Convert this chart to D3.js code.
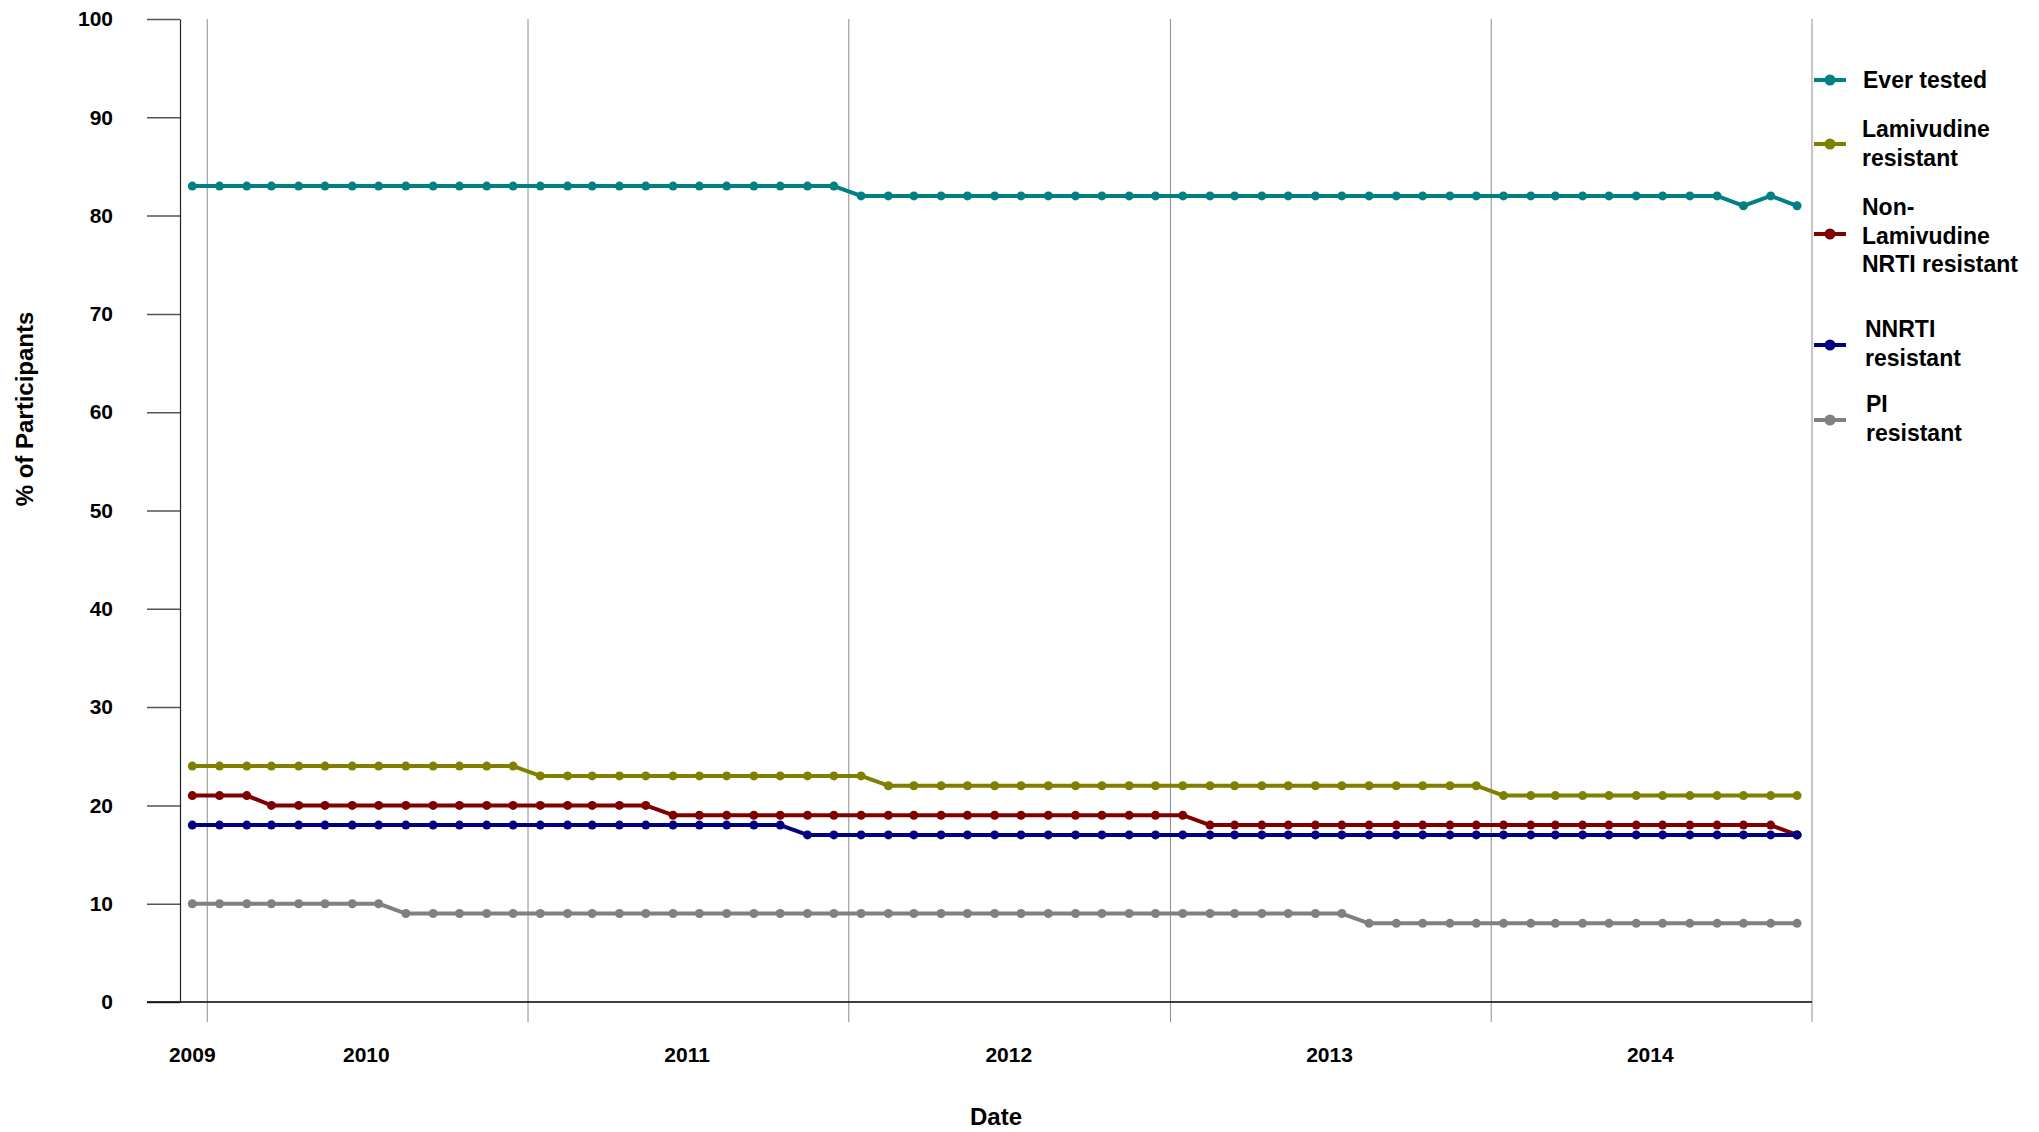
<!DOCTYPE html>
<html>
<head>
<meta charset="utf-8">
<script src="https://cdn.jsdelivr.net/npm/d3@7"></script>
<style>
  body { margin: 0; background: #fff; }
  text { font-family: "Liberation Sans", Arial, sans-serif; font-weight: bold; fill: #000; }
</style>
</head>
<body>
<script>
// monthly data, Dec 2009 - Dec 2014
var months = [
  "2009-12",
  "2010-01", "2010-02", "2010-03", "2010-04", "2010-05", "2010-06", "2010-07", "2010-08", "2010-09", "2010-10", "2010-11", "2010-12",
  "2011-01", "2011-02", "2011-03", "2011-04", "2011-05", "2011-06", "2011-07", "2011-08", "2011-09", "2011-10", "2011-11", "2011-12",
  "2012-01", "2012-02", "2012-03", "2012-04", "2012-05", "2012-06", "2012-07", "2012-08", "2012-09", "2012-10", "2012-11", "2012-12",
  "2013-01", "2013-02", "2013-03", "2013-04", "2013-05", "2013-06", "2013-07", "2013-08", "2013-09", "2013-10", "2013-11", "2013-12",
  "2014-01", "2014-02", "2014-03", "2014-04", "2014-05", "2014-06", "2014-07", "2014-08", "2014-09", "2014-10", "2014-11", "2014-12"
];

var everTested = [
  83,
  83, 83, 83, 83, 83, 83, 83, 83, 83, 83, 83, 83,
  83, 83, 83, 83, 83, 83, 83, 83, 83, 83, 83, 83,
  82, 82, 82, 82, 82, 82, 82, 82, 82, 82, 82, 82,
  82, 82, 82, 82, 82, 82, 82, 82, 82, 82, 82, 82,
  82, 82, 82, 82, 82, 82, 82, 82, 82, 81, 82, 81
];
var lamivudine = [
  24,
  24, 24, 24, 24, 24, 24, 24, 24, 24, 24, 24, 24,
  23, 23, 23, 23, 23, 23, 23, 23, 23, 23, 23, 23,
  23, 22, 22, 22, 22, 22, 22, 22, 22, 22, 22, 22,
  22, 22, 22, 22, 22, 22, 22, 22, 22, 22, 22, 22,
  21, 21, 21, 21, 21, 21, 21, 21, 21, 21, 21, 21
];
var nonLamNrti = [
  21,
  21, 21, 20, 20, 20, 20, 20, 20, 20, 20, 20, 20,
  20, 20, 20, 20, 20, 19, 19, 19, 19, 19, 19, 19,
  19, 19, 19, 19, 19, 19, 19, 19, 19, 19, 19, 19,
  19, 18, 18, 18, 18, 18, 18, 18, 18, 18, 18, 18,
  18, 18, 18, 18, 18, 18, 18, 18, 18, 18, 18, 17
];
var nnrti = [
  18,
  18, 18, 18, 18, 18, 18, 18, 18, 18, 18, 18, 18,
  18, 18, 18, 18, 18, 18, 18, 18, 18, 18, 17, 17,
  17, 17, 17, 17, 17, 17, 17, 17, 17, 17, 17, 17,
  17, 17, 17, 17, 17, 17, 17, 17, 17, 17, 17, 17,
  17, 17, 17, 17, 17, 17, 17, 17, 17, 17, 17, 17
];
var pi = [
  10,
  10, 10, 10, 10, 10, 10, 10, 9, 9, 9, 9, 9,
  9, 9, 9, 9, 9, 9, 9, 9, 9, 9, 9, 9,
  9, 9, 9, 9, 9, 9, 9, 9, 9, 9, 9, 9,
  9, 9, 9, 9, 9, 9, 9, 8, 8, 8, 8, 8,
  8, 8, 8, 8, 8, 8, 8, 8, 8, 8, 8, 8
];

var seriesNames = [
  ["Ever tested"],
  ["Lamivudine", "resistant"],
  ["Non-", "Lamivudine", "NRTI resistant"],
  ["NNRTI", "resistant"],
  ["PI", "resistant"]
];
var seriesValues = [everTested, lamivudine, nonLamNrti, nnrti, pi];
var seriesColors = ["#008080", "#808000", "#800000", "#000080", "#808080"];

var yTicks = [0, 10, 20, 30, 40, 50, 60, 70, 80, 90, 100];
var yearLabels = ["2009", "2010", "2011", "2012", "2013", "2014"];
var yearBreaks = ["2010", "2011", "2012", "2013", "2014", "2015"];

// dimensions (window.top is read-only, so no "top" here)
var width = 2039;
var height = 1132;
var plotLeft = 180, plotRight = 1812, plotTop = 19, plotBottom = 1002;

var parseMonth = d3.timeParse("%Y-%m");
var parseYear = d3.timeParse("%Y");

var x = d3.scaleTime()
  .domain([parseMonth("2009-12"), parseYear("2015")])
  .range([plotLeft, plotRight]);

var y = d3.scaleLinear()
  .domain([0, 100])
  .range([plotBottom, plotTop]);

// point sits in the middle of its month
function midMonth(m) {
  return d3.timeDay.offset(parseMonth(m), 14);
}

var svg = d3.select("body").append("svg")
  .attr("width", width)
  .attr("height", height);

// vertical year lines
svg.selectAll(".grid")
  .data(yearBreaks)
  .enter().append("line")
  .attr("class", "grid")
  .attr("x1", function(d) { return x(parseYear(d)); })
  .attr("x2", function(d) { return x(parseYear(d)); })
  .attr("y1", plotTop)
  .attr("y2", plotBottom + 20)
  .attr("stroke", "#8c8c8c")
  .attr("stroke-width", 1);

// y axis
var yAxis = d3.axisLeft(y)
  .tickValues(yTicks)
  .tickSize(33)
  .tickSizeOuter(0)
  .tickPadding(34);
var gy = svg.append("g")
  .attr("transform", "translate(" + plotLeft + ",0)")
  .call(yAxis);
gy.select(".domain").attr("stroke", "#222").attr("stroke-width", 1.2);
gy.selectAll(".tick line").attr("stroke", "#555").attr("stroke-width", 1.5);
gy.selectAll(".tick text")
  .attr("font-size", 21)
  .attr("font-family", "Liberation Sans, Arial, sans-serif")
  .attr("font-weight", "bold")
  .attr("fill", "#000");

// x axis line at zero
svg.append("line")
  .attr("x1", plotLeft - 33)
  .attr("x2", plotRight)
  .attr("y1", y(0))
  .attr("y2", y(0))
  .attr("stroke", "#000")
  .attr("stroke-width", 1.5);

// year labels
svg.selectAll(".year")
  .data(yearLabels)
  .enter().append("text")
  .attr("class", "year")
  .attr("x", function(d, i) {
    if (i === 0) return x(midMonth(months[0]));
    return x(d3.timeMonth.offset(parseYear(d), 6));
  })
  .attr("y", 1062)
  .attr("text-anchor", "middle")
  .attr("font-size", 21)
  .text(function(d) { return d; });

// axis titles
svg.append("text")
  .attr("x", (plotLeft + plotRight) / 2)
  .attr("y", 1125)
  .attr("text-anchor", "middle")
  .attr("font-size", 24)
  .text("Date");

svg.append("text")
  .attr("transform", "translate(33,409) rotate(-90)")
  .attr("text-anchor", "middle")
  .attr("font-size", 24)
  .text("% of Participants");

// lines + dots
var line = d3.line()
  .x(function(d, i) { return x(midMonth(months[i])); })
  .y(function(d) { return y(d); });

seriesValues.forEach(function(vals, s) {
  var g = svg.append("g");
  g.append("path")
    .datum(vals)
    .attr("d", line)
    .attr("fill", "none")
    .attr("stroke", seriesColors[s])
    .attr("stroke-width", 4)
    .attr("stroke-linejoin", "round");
  g.selectAll("circle")
    .data(vals)
    .enter().append("circle")
    .attr("cx", function(d, i) { return x(midMonth(months[i])); })
    .attr("cy", function(d) { return y(d); })
    .attr("r", 4.5)
    .attr("fill", seriesColors[s]);
});

// legend
var legendMarkY = [80, 144, 234, 345, 420];
var legendTextY = [88, 137, 215, 337, 412];
var legendTextX = [1863, 1862, 1862, 1865, 1866];

var legend = svg.selectAll(".legend")
  .data(seriesNames)
  .enter().append("g")
  .attr("class", "legend");

legend.append("line")
  .attr("x1", 1814)
  .attr("x2", 1846)
  .attr("y1", function(d, i) { return legendMarkY[i]; })
  .attr("y2", function(d, i) { return legendMarkY[i]; })
  .attr("stroke", function(d, i) { return seriesColors[i]; })
  .attr("stroke-width", 4);

legend.append("circle")
  .attr("cx", 1830)
  .attr("cy", function(d, i) { return legendMarkY[i]; })
  .attr("r", 5.5)
  .attr("fill", function(d, i) { return seriesColors[i]; });

legend.append("text")
  .attr("x", function(d, i) { return legendTextX[i]; })
  .attr("y", function(d, i) { return legendTextY[i]; })
  .attr("font-size", 23)
  .each(function(d, i) {
    var t = d3.select(this);
    d.forEach(function(part, k) {
      t.append("tspan")
        .attr("x", legendTextX[i])
        .attr("dy", k === 0 ? 0 : 28.5)
        .text(part);
    });
  });
</script>
</body>
</html>
